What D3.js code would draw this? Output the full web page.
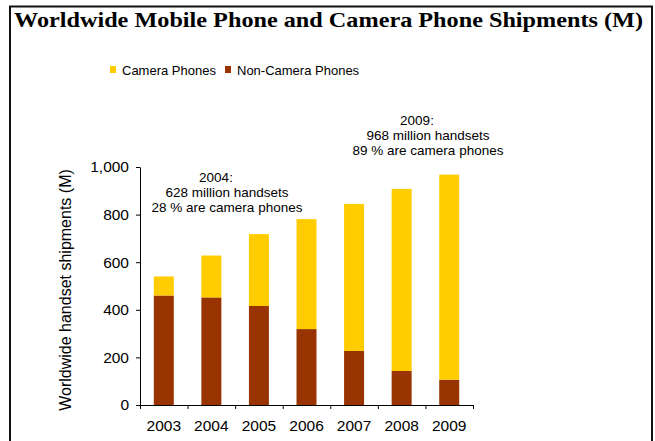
<!DOCTYPE html>
<html>
<head>
<meta charset="utf-8">
<script src="https://cdn.jsdelivr.net/npm/d3@7"></script>
<style>
  body { margin: 0; background: #fff; }
  svg { display: block; font-family: Arial, "Liberation Sans", sans-serif; }
  .axis path, .axis line { stroke: #000; }
  .axis text { font-size: 15.5px; fill: #000; }
</style>
</head>
<body>
<svg id="chart"></svg>
<script>
// chart data
const years = ["2003", "2004", "2005", "2006", "2007", "2008", "2009"];
const nonCamera = [460, 452, 416, 319, 227, 143, 106];
const camera = [80, 176, 302, 462, 618, 765, 862];
const seriesNames = ["Camera Phones", "Non-Camera Phones"];
const seriesColors = ["#FFCC00", "#993300"];
const yTicks = [0, 200, 400, 600, 800, 1000];
const notes = [
  { year: "2004", lines: ["2004:", "628 million handsets", "28 % are camera phones"] },
  { year: "2009", lines: ["2009:", "968 million handsets", "89 % are camera phones"] },
];

const width = 655, height = 441;
const margin = { top: 167, right: 182, bottom: 36, left: 140 };

const svg = d3.select("#chart").attr("width", width).attr("height", height);

// frame
svg.append("rect")
  .attr("x", 10).attr("y", 6.5)
  .attr("width", 642).attr("height", 450)
  .attr("fill", "none").attr("stroke", "#111").attr("stroke-width", 2);

// title
svg.append("text")
  .attr("x", 328.5).attr("y", 27)
  .attr("text-anchor", "middle")
  .style("font-family", "'Liberation Serif', 'Times New Roman', serif")
  .style("font-weight", "bold")
  .style("font-size", "21px")
  .attr("textLength", 629)
  .attr("lengthAdjust", "spacingAndGlyphs")
  .text("Worldwide Mobile Phone and Camera Phone Shipments (M)");

// legend
const legend = svg.append("g").attr("transform", "translate(110,70)");
const legendX = [0, 115];
seriesNames.forEach((name, i) => {
  const g = legend.append("g").attr("transform", `translate(${legendX[i]},0)`);
  g.append("rect").attr("x", 0).attr("y", -4).attr("width", 6).attr("height", 7)
    .attr("fill", seriesColors[i]);
  g.append("text").attr("x", 12).attr("y", 0).attr("dy", "0.35em")
    .style("font-size", "13px").text(name);
});

const innerW = width - margin.left - margin.right;
const innerH = height - margin.top - margin.bottom;
const chart = svg.append("g").attr("transform", `translate(${margin.left},${margin.top})`);

const x = d3.scaleBand().domain(years).range([0, innerW])
  .paddingInner(0.58).paddingOuter(0.29);
const y = d3.scaleLinear().domain([0, 1000]).range([innerH, 0]);

// stacked bars
const rows = years.map((yr, i) => ({ year: yr, nonCamera: nonCamera[i], camera: camera[i] }));
const stack = d3.stack().keys(["nonCamera", "camera"])(rows);
const colorFor = { nonCamera: seriesColors[1], camera: seriesColors[0] };

chart.selectAll(".layer")
  .data(stack)
  .join("g")
  .attr("class", "layer")
  .attr("fill", d => colorFor[d.key])
  .selectAll("rect")
  .data(d => d)
  .join("rect")
  .attr("x", d => x(d.data.year))
  .attr("width", x.bandwidth())
  .attr("y", d => y(d[1]))
  .attr("height", d => y(d[0]) - y(d[1]));

// y axis
chart.append("g")
  .attr("class", "axis")
  .call(d3.axisLeft(y).tickValues(yTicks).tickSize(4).tickPadding(7)
    .tickFormat(d3.format(",")).tickSizeOuter(0));

// x axis: boundary ticks + centered labels
const xEdges = d3.scaleLinear().domain([0, years.length]).range([0, innerW]);
chart.append("g")
  .attr("class", "axis")
  .attr("transform", `translate(0,${innerH})`)
  .call(d3.axisBottom(xEdges).ticks(years.length).tickSize(4).tickFormat("").tickSizeOuter(4))
  .call(g => g.select(".domain").attr("d", `M-3,0.5H${innerW}`));

chart.append("g")
  .attr("class", "axis")
  .attr("transform", `translate(0,${innerH})`)
  .call(d3.axisBottom(x).tickSize(0).tickPadding(15))
  .call(g => g.select(".domain").remove());

// y axis title
svg.append("text")
  .attr("transform", "translate(71,290) rotate(-90)")
  .attr("text-anchor", "middle")
  .style("font-size", "16px")
  .text("Worldwide handset shipments (M)");

// annotations
const noteY = { "2004": 182, "2009": 125 };
const noteX = { "2004": 227, "2009": 428 };
notes.forEach(n => {
  const t = svg.append("text")
    .attr("text-anchor", "middle")
    .style("font-size", "13.5px");
  n.lines.forEach((line, i) => {
    t.append("tspan")
      .attr("x", noteX[n.year])
      .attr("dx", i === 0 ? -11 : 0)
      .attr("y", noteY[n.year] + i * 15)
      .text(line);
  });
});
</script>
</body>
</html>
